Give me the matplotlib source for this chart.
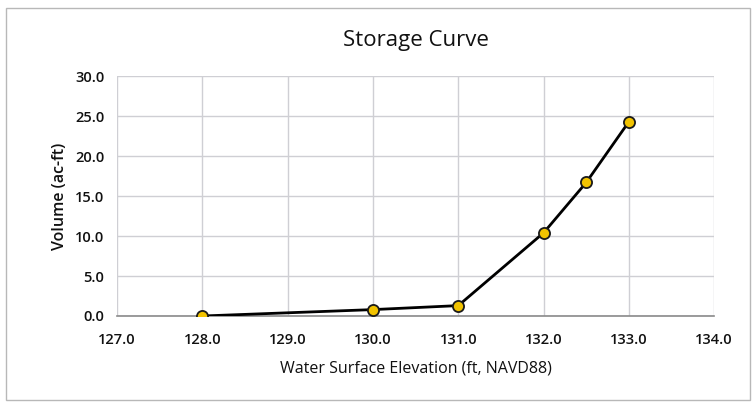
import matplotlib.pyplot as plt
from matplotlib.patches import Rectangle

elevation = [128.0, 130.0, 131.0, 132.0, 132.5, 133.0]
volume = [0.0, 0.8, 1.3, 10.4, 16.7, 24.3]
x_ticks = [127, 128, 129, 130, 131, 132, 133, 134]
y_ticks = [0, 5, 10, 15, 20, 25, 30]

plt.rcParams['font.family'] = ['Open Sans', 'DejaVu Sans']

fig = plt.figure(figsize=(7.55, 4.08), dpi=100)
fig.patches.append(Rectangle((0.008, 0.02), 0.985, 0.96, transform=fig.transFigure,
                             fill=False, edgecolor='#b8b8b8', linewidth=1))
ax = fig.add_axes([0.155, 0.2255, 0.791, 0.588])

ax.plot(elevation, volume, color='black', linewidth=2, marker='o', markersize=8,
        markerfacecolor='#f2c300', markeredgecolor='#1a1a1a', markeredgewidth=1.3, zorder=3)

ax.set_xlim(127, 134)
ax.set_ylim(0, 30)
ax.set_xticks(x_ticks)
ax.set_yticks(y_ticks)
ax.set_xticklabels([f"{v:.1f}" for v in x_ticks])
ax.set_yticklabels([f"{v:.1f}" for v in y_ticks])
ax.grid(True, color='#cfcfd4', linewidth=1)
ax.set_axisbelow(True)
for side in ['top', 'right', 'left']:
    ax.spines[side].set_visible(False)
ax.spines['bottom'].set_color('#8a8a8a')
ax.spines['bottom'].set_linewidth(1.2)
ax.tick_params(axis='x', length=0, labelsize=10.5, colors='#111111', pad=12)
ax.tick_params(axis='y', length=0, labelsize=10.5, colors='#111111', pad=9)
for lbl in ax.get_xticklabels() + ax.get_yticklabels():
    lbl.set_fontweight('semibold')

ax.set_title("Storage Curve", fontsize=16, color='#111111', pad=22)
ax.set_xlabel("Water Surface Elevation (ft, NAVD88)", fontsize=11.5, color='#111111',
              labelpad=10)
ax.set_ylabel("Volume (ac-ft)", fontsize=11.5, color='#111111', labelpad=5,
              fontweight='semibold')

plt.savefig('out.png', dpi=100)
